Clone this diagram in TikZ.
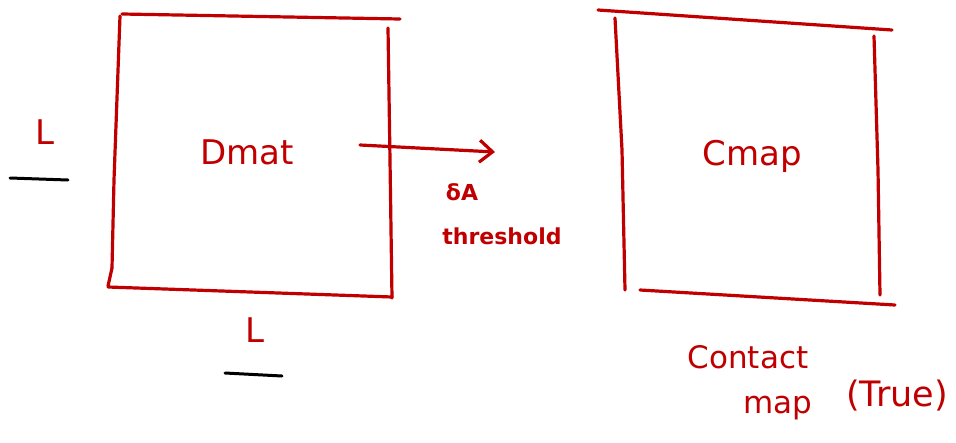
\documentclass[tikz,border=0pt]{standalone}
\usepackage{fontspec}
\setmainfont{DejaVu Sans}
\usetikzlibrary{arrows.meta}
\definecolor{ink}{HTML}{C00000}
\begin{document}
\begin{tikzpicture}[x=1pt,y=-1pt,
  pen/.style={draw=ink,line width=3.2pt,line cap=round,line join=round},
  blk/.style={draw=black,line width=3pt,line cap=round},
  lbl/.style={text=ink,font=\fontsize{34}{36}\selectfont,inner sep=0pt},
  sml/.style={text=ink,font=\fontsize{22}{24}\selectfont\bfseries,inner sep=0pt}]
\useasboundingbox (0,0) rectangle (956,442);
% left box
\draw[pen] (122,14) -- (400,19);
\draw[pen] (120,16) -- (114,180) -- (112,268);
\draw[pen] (112,268) -- (108,286);
\draw[pen] (388,28) -- (390,160) -- (392,298);
\draw[pen] (108,287) -- (392,297);
% right box
\draw[pen] (598,10) -- (892,30);
\draw[pen] (615,18) -- (622,150) -- (625,290);
\draw[pen] (874,36) -- (878,170) -- (880,295);
\draw[pen] (640,290) -- (895,305);
% labels
\node[lbl] (dmat) at (247,152) {Dmat};
\node[lbl] (cmap) at (752,156) {Cmap};
\node[lbl] (l1) at (45,132) {L};
\draw[blk] (10,178) -- (68,180);
\node[lbl] (l2) at (255,330) {L};
\draw[blk] (225,373) -- (282,376);
\node[sml] (da) at (462,192) {δA};
\node[sml] (thr) at (502,236) {threshold};
\node[lbl,font=\fontsize{31}{32}\selectfont] (ct) at (748,357) {Contact};
\node[lbl,font=\fontsize{31}{32}\selectfont] (mp) at (778,408) {map};
\node[lbl,font=\fontsize{35}{36}\selectfont] (tr) at (897,396) {(True)};
% arrow
\coordinate (as) at (360,145);
\coordinate (ae) at (495,152);
\draw[pen,-{Straight Barb[length=13pt,width=22pt,line width=3.2pt]}] (as) -- (ae);
\end{tikzpicture}
\end{document}
